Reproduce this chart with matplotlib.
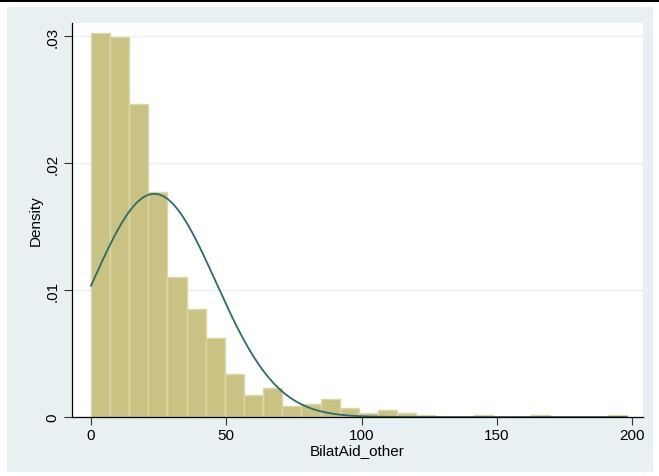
import numpy as np
import matplotlib
matplotlib.use('Agg')
from matplotlib import pyplot as plt
from matplotlib.patches import Rectangle

# histogram bins (width ~7.07, starting at 0) and density heights
bin_width = 7.07
bin_starts = [i * bin_width for i in range(28)]
density = [0.0302, 0.0299, 0.02465, 0.01774, 0.0110, 0.0085, 0.0062,
           0.00336, 0.00173, 0.00228, 0.00084, 0.00102, 0.00142, 0.00070,
           0.00031, 0.00054, 0.00031, 0.00016, 0.0, 0.0, 0.00017, 0.0,
           0.0, 0.00017, 0.0, 0.0, 0.0, 0.00017]

# normal overlay
norm_mean = 23.4
norm_sd = 22.7
x_range = (0, 198)

x_ticks = [0, 50, 100, 150, 200]
y_ticks = [0, 0.01, 0.02, 0.03]
y_ticklabels = ['0', '.01', '.02', '.03']

plt.rcParams['font.family'] = ['Liberation Sans', 'DejaVu Sans']

fig = plt.figure(figsize=(6.59, 4.77), dpi=100)
W, H = 659, 477
# stata-ish graph region
fig.patches.append(Rectangle((7 / W, 1 - 473 / H), 646 / W, 465 / H,
                             transform=fig.transFigure, facecolor='#e9f0f2',
                             edgecolor='none', zorder=-2))
fig.patches.append(Rectangle((0, 1 - 3 / H), 1, 3 / H,
                             transform=fig.transFigure, facecolor='black',
                             edgecolor='none', zorder=-2))

ax = fig.add_axes([72 / W, 1 - 418 / H, 571 / W, 394 / H])
ax.set_facecolor('white')

ax.bar(bin_starts, density, width=bin_width, align='edge',
       color='#c9c283', edgecolor='#dcd7a8', linewidth=1.0, zorder=2)

xs = np.linspace(x_range[0], x_range[1], 400)
ys = np.exp(-0.5 * ((xs - norm_mean) / norm_sd) ** 2) / (norm_sd * np.sqrt(2 * np.pi))
ax.plot(xs, ys, color='#2b6d69', linewidth=1.3, zorder=3)

ax.set_xlim(-7.0, 204.0)
ax.set_ylim(0, 0.03102)
ax.set_xticks(x_ticks)
ax.set_yticks(y_ticks)
ax.set_yticklabels(y_ticklabels, rotation=90, va='center')
ax.tick_params(axis='both', labelsize=11, length=6, width=0.8, color='#333333')
ax.tick_params(axis='x', pad=2)
ax.tick_params(axis='y', pad=3)
ax.grid(axis='y', color='#e9f0f2', linewidth=1.0, zorder=1)
ax.set_axisbelow(True)

for s in ['top', 'right']:
    ax.spines[s].set_visible(False)
for s in ['left', 'bottom']:
    ax.spines[s].set_linewidth(0.9)
    ax.spines[s].set_zorder(4)

ax.set_xlabel('BilatAid_other', fontsize=11, labelpad=1)
ax.set_ylabel('Density', fontsize=11, labelpad=2)

fig.savefig('out.png', dpi=100)
